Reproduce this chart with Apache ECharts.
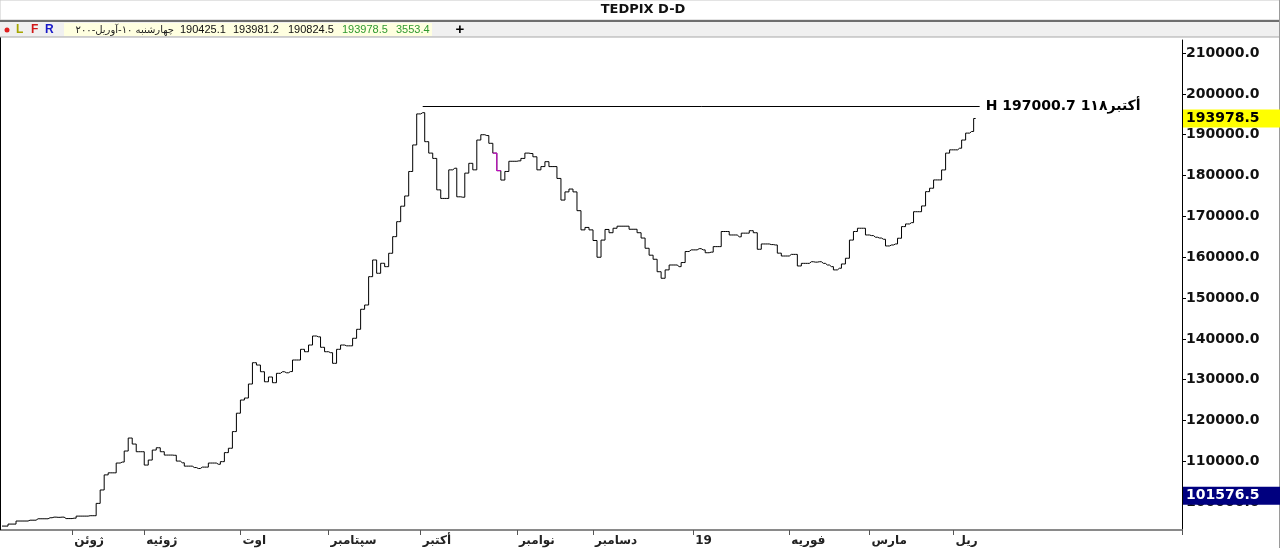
<!DOCTYPE html>
<html><head><meta charset="utf-8">
<script src="https://cdn.jsdelivr.net/npm/echarts@6/dist/echarts.min.js"></script>
<style>html,body{margin:0;padding:0;background:#fff;overflow:hidden}#c{width:1280px;height:548px}</style>
</head><body><div id="c"></div><script>
// ---- data ----
const closeValues = [
94160,94160,94650,94650,95400,95400,95400,95600,95600,95950,
95950,95950,96200,96350,96300,96350,96000,96000,96100,96600,
96600,96600,96700,96700,99720,103000,106700,107200,107200,109600,
109840,112540,115720,114250,112370,112370,109100,110330,112780,113340,
112370,111550,111550,111500,110080,109660,108840,108840,108500,108260,
108600,108600,109600,109600,109300,109940,112150,113220,117300,121800,
125030,125520,128950,134170,133600,131960,129500,130670,129270,131570,
131960,131700,132000,134830,134830,137450,136860,138500,140710,140500,
137940,136860,136620,134020,137450,138500,138300,138300,140150,142350,
147250,148300,155240,159330,156070,158520,157690,160970,165040,168710,
172500,175000,181000,187500,195100,195400,188300,185500,184200,176500,
174400,174400,181400,181800,174800,174700,180600,183000,181400,188700,
190000,189800,187900,185500,181200,178900,181000,183500,183500,183600,
184200,185500,185400,184600,181400,182200,183400,182200,182200,179300,
174000,176000,176700,176000,171400,166700,167300,166700,164100,160000,
164200,166800,166000,167100,167600,167600,167600,166850,166850,166000,
164700,162200,160500,159500,156450,154850,156900,158100,158100,157700,
158700,161400,161800,161800,162100,161800,161100,161250,162600,162600,
166300,166300,165450,165450,165000,165900,165900,166500,166000,161950,
163250,163250,163100,163000,161000,160300,160300,160700,160700,157860,
158500,158500,158900,158800,158900,158500,158100,157700,156900,157300,
158350,159750,164200,166300,167100,167100,165450,165300,164900,164700,
164400,162760,163000,163250,164650,167500,168150,168470,171150,171150,
172560,176060,176900,178930,178930,181380,185500,186300,186300,186700,
188700,190400,190800,193978.5
];
const totalSlots = 295;
const monthTickIndex = [18, 36, 60, 82, 105, 129, 148, 173, 197, 217, 238];
const monthLabels = ['ژوئن', 'ژوئیه', 'اوت', 'سپتامبر', 'أكتبر', 'نوامبر', 'دسامبر', '19', 'فوریه', 'مارس', 'ریل'];
const yTickValues = [100000, 110000, 120000, 130000, 140000, 150000, 160000, 170000, 180000, 190000, 200000, 210000];
const highValue = 197000.7;
const highIndex = 105;
const highLineEndIndex = 244;
const highLabel = 'H 197000.7 1أكتبر۱۸';
const pinkIndices = [123, 124];
const lastValue = 193978.5;
const markerValue = 101576.5;
const headerTitle = 'TEDPIX D-D';
const headerDate = 'چهارشنبه ۱۰-آوریل-۲۰۰';
const headerValues = ['190425.1', '193981.2', '190824.5', '193978.5', '3553.4'];

// ---- build ----
const categories = Array.from({length: totalSlots}, (_, i) => String(i));
const pinkSeries = categories.map((c, i) => pinkIndices.includes(i) ? closeValues[i] : null);

const chart = echarts.init(document.getElementById('c'), null, {renderer: 'canvas'});
const FONT = 'DejaVu Sans';
chart.setOption({
  animation: false,
  backgroundColor: '#ffffff',
  grid: {left: 0, top: 40, width: 1182, height: 490, containLabel: false},
  xAxis: {
    type: 'category', data: categories, boundaryGap: true,
    axisLine: {show: true, lineStyle: {color: '#8a8a8a', width: 2}},
    axisTick: {show: true, length: 5, interval: (i) => monthTickIndex.includes(i), lineStyle: {color: '#555'}},
    axisLabel: {
      show: true, interval: (i) => monthTickIndex.includes(i), align: 'left', margin: 5,
      fontFamily: FONT, fontWeight: 'bold', fontSize: 12, color: '#222',
      formatter: (v, i) => { const k = monthTickIndex.indexOf(Number(v)); return k >= 0 ? monthLabels[k] : ''; }
    },
    splitLine: {show: false}
  },
  yAxis: {
    type: 'value', position: 'right', min: 93200, max: 213200, scale: true,
    axisLine: {show: true, lineStyle: {color: '#000', width: 1}},
    axisTick: {show: true, length: 4, customValues: yTickValues, lineStyle: {color: '#000'}},
    axisLabel: {show: true, customValues: yTickValues, margin: 4, fontFamily: FONT, fontWeight: 'bold', fontSize: 14, color: '#111',
      formatter: (v) => Number(v).toFixed(1)},
    splitLine: {show: false}
  },
  series: [
    {
      type: 'line', data: closeValues, step: 'middle', symbol: 'none', silent: true,
      lineStyle: {color: '#000', width: 1},
      markLine: {
        silent: true, symbol: 'none',
        lineStyle: {color: '#000', width: 1, type: 'solid'},
        label: {show: true, position: 'end', distance: 6, formatter: highLabel, fontFamily: FONT, fontWeight: 'bold', fontSize: 14, color: '#000'},
        data: [[{coord: [String(highIndex), highValue]}, {coord: [String(highLineEndIndex), highValue]}]]
      }
    },
    {
      type: 'line', data: pinkSeries, step: 'middle', symbol: 'none', silent: true, connectNulls: false,
      lineStyle: {color: '#e000e0', width: 1}, z: 3
    }
  ]
});

const yLast = chart.convertToPixel({yAxisIndex: 0}, lastValue);
const yMark = chart.convertToPixel({yAxisIndex: 0}, markerValue);

const g = [];
// title bar
g.push({type: 'rect', shape: {x: 0, y: 0, width: 1280, height: 20}, style: {fill: '#fff', stroke: '#c8c8c8', lineWidth: 1}, z: 100});
g.push({type: 'text', x: 643, y: 10, style: {text: headerTitle, font: 'bold 13px ' + FONT, fill: '#111', align: 'center', verticalAlign: 'middle'}, z: 101});
g.push({type: 'rect', shape: {x: 0, y: 20, width: 1280, height: 2}, style: {fill: '#6e6e6e'}, z: 101});
// toolbar
g.push({type: 'rect', shape: {x: 0, y: 22, width: 1280, height: 15}, style: {fill: '#f0f0f0'}, z: 100});
g.push({type: 'rect', shape: {x: 0, y: 36.5, width: 1280, height: 1}, style: {fill: '#a8a8a8'}, z: 101});
g.push({type: 'circle', shape: {cx: 7, cy: 30, r: 2.5}, style: {fill: '#e02020'}, z: 101});
g.push({type: 'text', x: 16, y: 30, style: {text: 'L', font: 'bold 12px Liberation Sans', fill: '#a6a600', verticalAlign: 'middle'}, z: 101});
g.push({type: 'text', x: 31, y: 30, style: {text: 'F', font: 'bold 12px Liberation Sans', fill: '#d01818', verticalAlign: 'middle'}, z: 101});
g.push({type: 'text', x: 45, y: 30, style: {text: 'R', font: 'bold 12px Liberation Sans', fill: '#1818c8', verticalAlign: 'middle'}, z: 101});
g.push({type: 'rect', shape: {x: 64, y: 23, width: 368, height: 13}, style: {fill: '#ffffe0'}, z: 101});
g.push({type: 'text', x: 174, y: 30, style: {text: headerDate, font: '10px ' + FONT, fill: '#222', align: 'right', verticalAlign: 'middle'}, z: 102});
const hx = [180, 233, 288, 342, 396];
headerValues.forEach((t, i) => {
  g.push({type: 'text', x: hx[i], y: 30, style: {text: t, font: '11px Liberation Sans', fill: i >= 3 ? '#2f9a2f' : '#111', verticalAlign: 'middle'}, z: 102});
});
g.push({type: 'text', x: 460, y: 30, style: {text: '+', font: 'bold 15px Liberation Sans', fill: '#000', align: 'center', verticalAlign: 'middle'}, z: 102});
// frame
g.push({type: 'rect', shape: {x: 0, y: 37, width: 1, height: 493}, style: {fill: '#000'}, z: 50});
g.push({type: 'rect', shape: {x: 1279, y: 0, width: 1, height: 548}, style: {fill: '#9a9a9a'}, z: 102});
// price markers on axis
g.push({type: 'rect', shape: {x: 1183, y: yLast - 9, width: 97, height: 18}, style: {fill: '#ffff00'}, z: 110});
g.push({type: 'text', x: 1186, y: yLast, style: {text: lastValue.toFixed(1), font: 'bold 14px ' + FONT, fill: '#000', verticalAlign: 'middle'}, z: 111});
g.push({type: 'rect', shape: {x: 1183, y: yMark - 9, width: 97, height: 18}, style: {fill: '#00007f'}, z: 110});
g.push({type: 'text', x: 1186, y: yMark, style: {text: markerValue.toFixed(1), font: 'bold 14px ' + FONT, fill: '#fff', verticalAlign: 'middle'}, z: 111});
chart.setOption({graphic: {elements: g}});
</script></body></html>
